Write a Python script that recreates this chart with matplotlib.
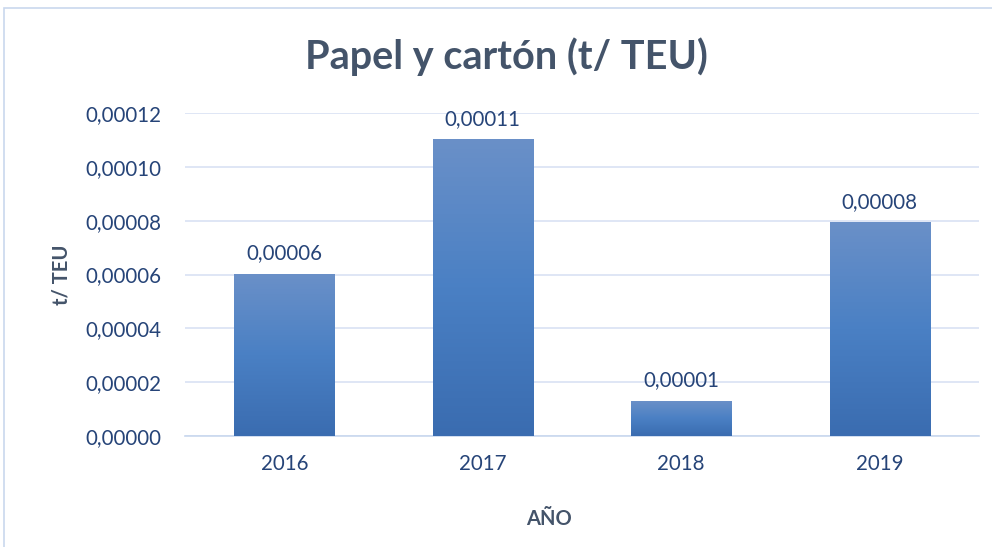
import matplotlib
matplotlib.use("Agg")
import matplotlib.pyplot as plt
import numpy as np
from matplotlib.colors import LinearSegmentedColormap
from matplotlib.patches import Rectangle

years = ["2016", "2017", "2018", "2019"]
values = [0.0000600, 0.0001100, 0.0000130, 0.0000792]
labels = ["0,00006", "0,00011", "0,00001", "0,00008"]
yticks = [0, 0.00002, 0.00004, 0.00006, 0.00008, 0.00010, 0.00012]

FONT = "Lato"
tick_color = "#264478"
title_color = "#44546A"
grid_color = "#D9E2F3"

fig = plt.figure(figsize=(9.92, 5.47), dpi=100)
fig.patches.append(Rectangle((4/992, -0.01), 1.1, 1 - 8/547 + 0.01, transform=fig.transFigure,
                             fill=False, edgecolor="#C9D8EE", linewidth=1.2))
ax = fig.add_axes([185/992, 1 - 436/547, (979 - 185)/992, (436 - 113)/547])

x = np.arange(len(years))
bars = ax.bar(x, values, width=0.505, color="none", zorder=3)
cmap = LinearSegmentedColormap.from_list("g", ["#3A6CB0", "#4A80C4", "#6A90C8"])
grad = np.linspace(0, 1, 256).reshape(-1, 1)
for b in bars:
    x0, y0 = b.get_x(), b.get_y()
    w, h = b.get_width(), b.get_height()
    ax.imshow(grad, cmap=cmap, origin="lower", extent=(x0, x0 + w, y0, y0 + h),
              aspect="auto", zorder=3, interpolation="bilinear")

for b, lab in zip(bars, labels):
    ax.annotate(lab, (b.get_x() + b.get_width() / 2, b.get_height()),
                xytext=(0, 8), textcoords="offset points", ha="center", va="bottom",
                fontsize=14.8, color=tick_color, family=FONT)

ax.set_xlim(-0.5, len(years) - 0.5)
ax.set_ylim(0, 0.00012)
ax.set_yticks(yticks)
ax.set_yticklabels([f"{v:.5f}".replace(".", ",") for v in yticks])
ax.set_xticks(x)
ax.set_xticklabels(years)
ax.tick_params(axis="both", length=0, labelsize=14.8, labelcolor=tick_color)
ax.tick_params(axis="y", pad=17)
ax.tick_params(axis="x", pad=13)
for lab in ax.get_xticklabels() + ax.get_yticklabels():
    lab.set_family(FONT)

ax.grid(axis="y", color=grid_color, linewidth=1.2, zorder=0)
ax.set_axisbelow(True)
for s in ["top", "right", "left"]:
    ax.spines[s].set_visible(False)
ax.spines["bottom"].set_color("#C9D8EE")
ax.spines["bottom"].set_linewidth(1.2)

fig.text(506/992, 1 - 57/547, "Papel y cartón (t/ TEU)", ha="center", va="center",
         fontsize=28.5, fontweight="bold", color=title_color, family=FONT)
fig.text(62/992, 1 - 275/547, "t/ TEU", ha="center", va="center", rotation=90,
         fontsize=14.5, fontweight="bold", color=title_color, family=FONT)
fig.text(549/992, 1 - 519/547, "AÑO", ha="center", va="center",
         fontsize=14.5, fontweight="bold", color=title_color, family=FONT)

fig.savefig("out.png", dpi=100)
